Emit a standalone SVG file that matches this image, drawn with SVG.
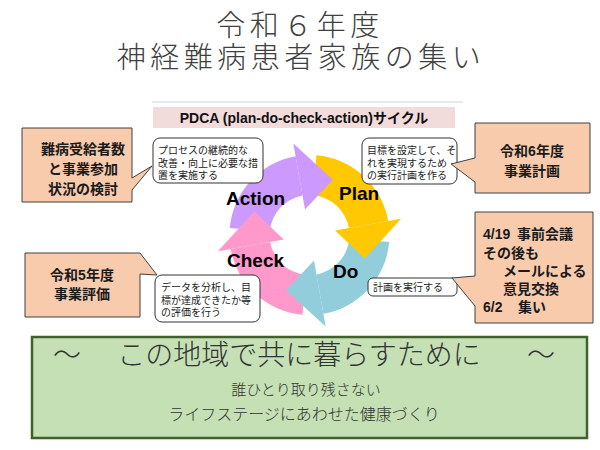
<svg xmlns="http://www.w3.org/2000/svg" width="600" height="450" viewBox="0 0 600 450">
<style>
.title{font-family:"Noto Sans CJK JP","Noto Sans",sans-serif;font-weight:300;fill:#404040;font-size:29px;letter-spacing:4.5px;text-anchor:middle}
.call{fill:#F8CBAD;stroke:#404040;stroke-width:1}
.ct{font-family:"Liberation Sans","Noto Sans CJK JP",sans-serif;font-weight:bold;font-size:14px;fill:#1a1a1a}
.bub{fill:#ffffff;stroke:#333333;stroke-width:1}
.bt{font-family:"Noto Sans CJK JP","Noto Sans",sans-serif;font-size:10px;fill:#222222}
.lbl{font-family:"Liberation Sans",Arial,sans-serif;font-weight:bold;font-size:19px;fill:#000000}
.gt{font-family:"Noto Sans CJK JP","Noto Sans",sans-serif;font-weight:300;fill:#333333;text-anchor:middle}
</style>
<rect width="600" height="450" fill="#ffffff"/>
<g id="title">
<text class="title" x="300" y="36">令和６年度</text>
<text class="title" x="301" y="68">神経難病患者家族の集い</text>
</g>
<g id="pdca-header">
<line x1="152" y1="102" x2="463" y2="102" stroke="#e2e2e2" stroke-width="1.5"/>
<rect x="153" y="107" width="302" height="21" fill="#F2DCDB"/>
<text x="304" y="123" text-anchor="middle" font-family="Liberation Sans, Noto Sans CJK JP, sans-serif" font-weight="bold" font-size="14" fill="#111">PDCA (plan-do-check-action)サイクル</text>
</g>
<g id="connectors">
<path d="M229.80,228.03 A80,80 0 0 1 295.61,156.22 L302.55,195.61 A40,40 0 0 0 269.65,231.51 Z" fill="#CC99FF"/>
<path d="M316.47,155.30 A80,80 0 0 1 388.28,221.11 L348.89,228.05 A40,40 0 0 0 312.99,195.15 Z" fill="#FFC800"/>
<path d="M389.20,241.97 A80,80 0 0 1 323.39,313.78 L316.45,274.39 A40,40 0 0 0 349.35,238.49 Z" fill="#92CDDC"/>
<path d="M302.53,314.70 A80,80 0 0 1 230.72,248.89 L270.11,241.95 A40,40 0 0 0 306.01,274.85 Z" fill="#FF99CC"/>
<path d="M293.35,143.41 L332.94,179.77 L304.99,209.39 Z" fill="#CC99FF"/>
<path d="M401.09,218.85 L364.73,258.44 L335.11,230.49 Z" fill="#FFC800"/>
<path d="M325.65,326.59 L286.06,290.23 L314.01,260.61 Z" fill="#92CDDC"/>
<path d="M217.91,251.15 L254.27,211.56 L283.89,239.51 Z" fill="#FF99CC"/>
</g>
<g id="action"><text class="lbl" x="226" y="205">Action</text></g>
<g id="plan"><text class="lbl" x="339" y="200">Plan</text></g>
<g id="do"><text class="lbl" x="333" y="278">Do</text></g>
<g id="check"><text class="lbl" x="227" y="267">Check</text></g>
<g id="bubble-action">
<rect class="bub" x="153" y="138" width="110" height="45" rx="7"/>
<text class="bt" x="158" y="154">プロセスの継続的な</text>
<text class="bt" x="158" y="166.5">改善・向上に必要な措</text>
<text class="bt" x="158" y="179">置を実施する</text>
</g>
<g id="bubble-plan">
<rect class="bub" x="362" y="138" width="95" height="46" rx="7"/>
<text class="bt" x="367" y="154">目標を設定して、そ</text>
<text class="bt" x="367" y="166.5">れを実現するため</text>
<text class="bt" x="367" y="179">の実行計画を作る</text>
</g>
<g id="bubble-check">
<rect class="bub" x="155" y="275" width="105" height="47" rx="7"/>
<text class="bt" x="161" y="291">データを分析し、目</text>
<text class="bt" x="161" y="303.5">標が達成できたか等</text>
<text class="bt" x="161" y="316">の評価を行う</text>
</g>
<g id="bubble-do">
<rect class="bub" x="368" y="278" width="89" height="18" rx="5"/>
<text class="bt" x="373" y="291">計画を実行する</text>
</g>
<g id="callout-review">
<path class="call" d="M22,128 H132 V178 L152,166 L132,190 V202 H22 Z"/>
<text class="ct" x="83" y="154" text-anchor="middle">難病受給者数</text>
<text class="ct" x="83" y="174" text-anchor="middle">と事業参加</text>
<text class="ct" x="83" y="194" text-anchor="middle">状況の検討</text>
</g>
<g id="callout-plan">
<path class="call" d="M475,123 H590 V193 H475 V182 L451,164 L475,158 Z"/>
<text class="ct" x="532" y="156" text-anchor="middle">令和6年度</text>
<text class="ct" x="532" y="176" text-anchor="middle">事業計画</text>
</g>
<g id="callout-do">
<path class="call" d="M475,212 H593 V323 H475 V306 L452,278 L475,276 Z"/>
<text class="ct" x="483" y="239">4/19<tspan x="517">事前会議</tspan></text>
<text class="ct" x="483" y="258">その後も</text>
<text class="ct" x="503" y="276">メールによる</text>
<text class="ct" x="503" y="294">意見交換</text>
<text class="ct" x="483" y="312">6/2<tspan x="518">集い</tspan></text>
</g>
<g id="callout-eval">
<path class="call" d="M25,253 H140 L157,275 L140,274 V317 H25 Z"/>
<text class="ct" x="82" y="280" text-anchor="middle">令和5年度</text>
<text class="ct" x="82" y="299" text-anchor="middle">事業評価</text>
</g>
<g id="motto">
<rect x="32" y="337" width="555" height="101" fill="#C5E0B4" stroke="#41602A" stroke-width="2.5"/>
<text class="gt" font-size="28" y="365"><tspan x="67">～</tspan><tspan x="299">この地域で共に暮らすために</tspan><tspan x="541">～</tspan></text>
<text class="gt" font-size="15" x="306" y="395">誰ひとり取り残さない</text>
<text class="gt" font-size="16" x="304" y="420">ライフステージにあわせた健康づくり</text>
</g>
</svg>
